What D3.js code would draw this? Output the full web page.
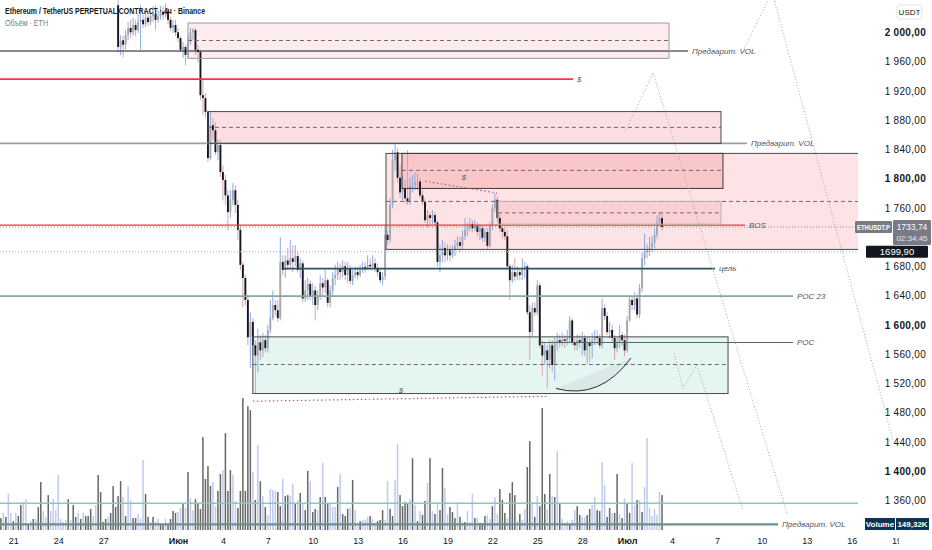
<!DOCTYPE html>
<html>
<head>
<meta charset="utf-8">
<script src="https://cdnjs.cloudflare.com/ajax/libs/d3/7.8.5/d3.min.js"></script>
<style>
    body { margin: 0; background: #ffffff; }
    #container svg { display: block; font-family: "Liberation Sans", Arial, sans-serif; }
</style>
</head>
<body>
<div id="container"></div>
<script>
// 4h candles, ETHUSDT.P, first bar opens 28 May 00:00 (UTC), open = previous close
var candleStart = "05-28 00:00";
var firstOpen = 2037;
var closes = [
    1980,1989,1983,1996,2006,2000,2010,2003,2014,2017,
    2011,2020,2014,2022,2025,2017,2022,2028,2024,2029,
    2017,2006,2010,2000,1992,1976,1980,1969,1987,2000,
    2003,1976,1973,1914,1910,1891,1828,1873,1866,1836,
    1846,1809,1798,1777,1754,1771,1784,1764,1730,1682,
    1664,1634,1583,1604,1572,1558,1576,1565,1579,1568,
    1593,1609,1627,1620,1609,1686,1675,1688,1682,1691,
    1686,1694,1675,1684,1636,1647,1656,1639,1647,1627,
    1639,1657,1651,1661,1630,1647,1664,1668,1677,1672,
    1680,1668,1677,1660,1668,1672,1668,1675,1679,1676,
    1682,1680,1684,1677,1672,1661,1666,1723,1716,1764,
    1825,1836,1801,1781,1787,1773,1768,1790,1791,1795,
    1796,1777,1768,1743,1750,1746,1750,1740,1686,1695,
    1705,1695,1702,1695,1702,1708,1713,1708,1721,1730,
    1732,1738,1732,1736,1727,1732,1719,1727,1708,1735,
    1760,1771,1746,1732,1727,1721,1680,1661,1672,1666,
    1672,1668,1677,1680,1617,1590,1623,1617,1654,1572,
    1558,1565,1552,1572,1545,1576,1579,1575,1580,1578,
    1582,1606,1576,1572,1579,1575,1582,1565,1576,1571,
    1579,1584,1582,1572,1623,1612,1590,1593,1582,1568,
    1575,1586,1579,1565,1606,1634,1627,1636,1614,1650,
    1691,1699,1702,1706,1712,1723,1740,1746,1733.74];
var highs = [
    2044,1996,1995,2003,2014,2017,2020,2017,2025,2037,
    2024,2028,2026,2030,2036,2037,2030,2036,2035,2039,
    2033,2021,2017,2017,2006,1995,1987,1983,1996,2006,
    2006,2006,1983,1976,1935,1917,1894,1891,1883,1877,
    1853,1853,1818,1805,1784,1784,1794,1791,1771,1736,
    1686,1668,1641,1617,1609,1579,1595,1586,1589,1586,
    1600,1634,1647,1634,1634,1720,1695,1695,1705,1716,
    1709,1709,1699,1691,1688,1661,1664,1661,1657,1653,
    1647,1668,1664,1675,1664,1654,1672,1682,1686,1684,
    1688,1686,1686,1682,1675,1680,1679,1682,1686,1686,
    1695,1691,1695,1691,1684,1677,1672,1732,1729,1773,
    1839,1848,1842,1818,1805,1798,1839,1801,1805,1809,
    1807,1801,1784,1773,1757,1754,1757,1754,1743,1709,
    1716,1713,1710,1708,1709,1716,1721,1720,1729,1746,
    1740,1746,1743,1743,1740,1738,1736,1732,1732,1740,
    1765,1780,1776,1751,1738,1732,1729,1683,1682,1691,
    1680,1677,1691,1686,1683,1627,1630,1631,1661,1658,
    1579,1575,1572,1579,1579,1582,1589,1586,1589,1586,
    1593,1612,1609,1583,1587,1586,1590,1586,1584,1584,
    1589,1593,1593,1587,1636,1628,1617,1604,1600,1586,
    1582,1600,1590,1587,1612,1640,1639,1645,1642,1656,
    1699,1725,1710,1720,1721,1732,1750,1754,1753];
var lows = [
    1973,1969,1966,1976,1989,1992,1996,1995,1999,1976,
    2006,2007,2009,2010,2014,2003,2013,2017,2017,2020,
    2011,2002,1999,1995,1987,1973,1965,1955,1965,1983,
    1989,1969,1959,1907,1887,1883,1823,1825,1853,1832,
    1825,1802,1770,1764,1729,1746,1764,1753,1716,1675,
    1624,1627,1572,1541,1558,1506,1535,1552,1556,1562,
    1562,1588,1606,1612,1604,1606,1668,1664,1675,1677,
    1672,1680,1671,1664,1631,1631,1634,1634,1627,1606,
    1620,1634,1640,1643,1624,1624,1640,1654,1661,1661,
    1665,1661,1658,1655,1654,1664,1662,1665,1671,1671,
    1675,1675,1677,1672,1666,1657,1654,1661,1709,1712,
    1759,1811,1794,1773,1770,1766,1764,1764,1781,1784,
    1784,1773,1764,1739,1733,1736,1738,1735,1680,1672,
    1686,1686,1688,1687,1691,1694,1702,1699,1703,1716,
    1721,1727,1727,1728,1721,1716,1713,1713,1702,1705,
    1729,1754,1740,1727,1718,1716,1677,1634,1657,1660,
    1661,1661,1661,1664,1613,1552,1584,1612,1613,1568,
    1531,1545,1513,1541,1535,1524,1565,1569,1571,1568,
    1572,1576,1572,1565,1565,1568,1558,1557,1547,1549,
    1554,1572,1573,1568,1568,1606,1586,1582,1576,1552,
    1562,1568,1571,1557,1562,1604,1620,1620,1609,1609,
    1645,1681,1691,1694,1699,1705,1718,1735,1729];

// volume per 4h bar in thousands ETH, negative = bearish bar
var volStart = "05-20 04:00";
var volumes = [
    -51,73,-56,154,73,-38,73,-60,-107,120,
    132,-26,38,-47,47,-98,-205,81,56,-149,
    81,132,85,235,47,34,43,-132,43,-107,
    -56,73,-47,73,-60,-60,-90,60,107,-235,
    -162,-34,-47,56,-73,-188,-98,-145,-209,141,
    -60,188,128,-51,-51,68,47,299,-154,-56,
    34,-56,34,47,-26,-26,47,-26,-47,-81,
    -73,77,94,-115,94,-248,137,85,-132,-111,
    -90,-397,-218,-273,-188,205,102,-167,-239,256,
    -414,-167,-256,235,124,-94,-167,-564,-167,-529,
    -512,248,-128,363,-209,145,-98,64,175,171,
    167,-162,-102,218,-145,-149,145,196,-111,128,
    -158,115,-85,-252,209,-77,-90,85,-141,286,
    -141,-115,115,98,98,-184,239,-68,
    -60,-90,94,-214,85,17,-38,43,43,56,
    -60,47,30,-38,-43,-85,43,209,-90,-60,
    214,367,-149,-102,-120,-115,132,-307,107,-38,
    81,-64,-124,201,-307,81,-68,120,-85,-265,
    179,68,-98,-77,-51,120,-56,34,-34,81,
    34,154,-51,51,-30,-30,-60,64,47,-102,
    141,68,-175,-128,-73,51,-158,-205,-149,38,
    -68,43,90,-269,-380,120,-56,145,-102,-521,
    -154,90,-239,145,-141,337,-115,47,30,38,
    -26,43,85,-102,-64,56,56,-64,-90,107,
    141,-85,-81,290,192,-56,-94,73,-73,-239,
    68,-51,137,-111,-73,286,107,-128,128,-77,
    184,393,94,60,90,64,162,-149.32];

// 1720 is hidden behind the last-price label in the picture
var priceTicks = [2000,1960,1920,1880,1840,1800,1760,1680,1640,1600,1560,1520,1480,1440,1400,1360];
var boldTicks = [2000,1800,1600,1400];
var timeTicks = ["05-21 00:00","05-24 00:00","05-27 00:00","06-01 00:00","06-04 00:00","06-07 00:00",
    "06-10 00:00","06-13 00:00","06-16 00:00","06-19 00:00","06-22 00:00","06-25 00:00","06-28 00:00",
    "07-01 00:00","07-04 00:00","07-07 00:00","07-10 00:00","07-13 00:00","07-16 00:00","07-19 00:00"];
var timeLabels = ["21","24","27","Июн","4","7","10","13","16","19","22","25","28","Июл","4","7","10","13","16","19"];

// horizontal levels (null start = from left edge, null end = to right edge)
var levelPrices = [1974.4, 1936.1, 1848.1, 1736.3, 1676.8, 1639.2, 1575.8, 1355.9, 1327.2];
var levelFrom = [null, null, null, null, "06-08 00:00", null, "06-25 04:30", null, null];
var levelTo = ["07-05 01:40", "06-27 09:20", "07-09 00:10", "07-08 21:00", "07-06 20:50", "07-12 02:00", "07-12 02:00", null, "07-11 02:00"];
var levelLabels = ["Предварит. VOL", "$", "Предварит. VOL", "BOS", "цель", "POC 23", "POC", "", "Предварит. VOL"];

// rectangles (zones)
var zoneTop = [2012.7, 1891.6, 1834.4, 1834.4, 1768.7, 1583.5];
var zoneBottom = [1964.4, 1848.1, 1703.1, 1786.5, 1737.7, 1506.0];
var zoneMid = [1988.8, 1870.0, 1768.7, 1811.2, 1753.1, 1545.7];
var zoneFrom = ["06-01 16:00", "06-03 00:00", "06-14 21:30", "06-15 23:00", "06-22 09:00", "06-06 00:00"];
var zoneTo = ["07-03 19:10", "07-07 06:30", null, "07-07 09:40", "07-07 06:30", "07-07 17:50"];

// liquidity sweeps ($) and the rounded bottom
var sweepA = [["06-17 12:00", 1796.5], ["06-22 07:30", 1780.1]];
var sweepB = [["06-06 00:00", 1495.5], ["06-25 17:20", 1502.3]];
var sweepLabels = [["06-20 02:30", 1797.5], ["06-15 21:30", 1506.5]];
var arcPts = [["06-26 06:00", 1512.9], ["06-29 04:40", 1496.8], ["07-01 06:20", 1554.7]];

// projected paths (dotted)
var projA = [["07-08 17:50", 1974.4], ["07-10 16:20", 2055.1], ["07-18 18:20", 1442.1]];
var projB = [["06-30 20:40", 1863.6], ["07-02 17:40", 1944.7], ["07-11 16:20", 1342.2]];
var projC = [["07-04 03:10", 1561.2], ["07-04 17:40", 1513.3], ["07-05 16:00", 1544.7], ["07-08 17:50", 1346.3]];

var markerPrice = 1699.90;
var symbolLabel = "ETHUSDT.P";
var countdown = "02:34:45";

function init() {
    var W = 932, H = 550;
    var plotRight = 858, plotBottom = 530;
    var parse = d3.utcParse("%Y-%m-%d %H:%M");
    var t = function (s) { return parse("2023-" + s); };

    var x = d3.scaleUtc().domain([t("06-01 00:00"), t("07-01 00:00")]).range([178, 627.1]);
    var y = d3.scaleLinear().domain([1360, 2000]).range([500.3, 32.3]);
    var yv = d3.scaleLinear().domain([0, 564]).range([plotBottom, 398]);

    var ru = d3.formatLocale({decimal: ",", thousands: "\u00a0", grouping: [3], currency: ["", ""]});
    var fmtPrice = ru.format(",.2f");
    var fmtLabel = ru.format(".2f");

    var svg = d3.select("#container").append("svg")
        .attr("width", W).attr("height", H);
    svg.append("rect").attr("width", W).attr("height", H).attr("fill", "#ffffff");

    var defs = svg.append("defs");
    defs.append("clipPath").attr("id", "plotClip")
        .append("rect").attr("width", plotRight).attr("height", plotBottom);
    defs.append("clipPath").attr("id", "timeClip")
        .append("rect").attr("x", -10).attr("y", 0).attr("width", 909).attr("height", 20);

    var plot = svg.append("g").attr("clip-path", "url(#plotClip)");

    var xs = function (s) { return s ? x(t(s)) : -2; };
    var xe = function (s) { return s ? x(t(s)) : plotRight + 2; };

    var zoneFill = ["#fdecee", "#fcdfe2", "#fde3e5", "#f9c6ca", "#fad0d4", "#e5f5f1"];
    var zoneStroke = ["#9a9a9a", "#4a4a4a", "#4a4a4a", "#3a3a3a", "#c4aeb0", "#4a4a4a"];
    var zoneOrder = [2, 0, 1, 3, 4, 5];

    zoneOrder.forEach(function (k) {
        var x0 = xs(zoneFrom[k]), x1 = xe(zoneTo[k]);
        plot.append("rect")
            .attr("x", x0).attr("y", y(zoneTop[k]))
            .attr("width", x1 - x0).attr("height", y(zoneBottom[k]) - y(zoneTop[k]))
            .attr("fill", zoneFill[k]);
    });

    // volume
    var vols = volumes.map(function (v, i) {
        return {date: d3.utcHour.offset(t(volStart), 4 * i), v: Math.abs(v), up: v > 0};
    });
    plot.append("g").selectAll("rect")
        .data(vols)
        .enter()
        .append("rect")
        .attr("x", function (d) { return x(d.date) - 0.75; })
        .attr("width", 1.5)
        .attr("y", function (d) { return yv(d.v); })
        .attr("height", function (d) { return plotBottom - yv(d.v); })
        .attr("fill", function (d) { return d.up ? "#bfcaec" : "#666666"; });

    // candles
    var candles = closes.map(function (c, i) {
        return {
            date: d3.utcHour.offset(t(candleStart), 4 * i),
            o: i === 0 ? firstOpen : closes[i - 1],
            h: highs[i], l: lows[i], c: c
        };
    });
    var bw = 1.9;
    var cg = plot.append("g");
    cg.selectAll("line")
        .data(candles)
        .enter()
        .append("line")
        .attr("x1", function (d) { return x(d.date); })
        .attr("x2", function (d) { return x(d.date); })
        .attr("y1", function (d) { return y(d.h); })
        .attr("y2", function (d) { return y(d.l); })
        .attr("stroke", function (d) { return d.c >= d.o ? "#7ea4e6" : "#d49aa0"; })
        .attr("stroke-width", 0.9);
    cg.selectAll("rect")
        .data(candles)
        .enter()
        .append("rect")
        .attr("x", function (d) { return x(d.date) - bw / 2; })
        .attr("width", bw)
        .attr("y", function (d) { return y(Math.max(d.o, d.c)); })
        .attr("height", function (d) { return Math.max(0.8, Math.abs(y(d.o) - y(d.c))); })
        .attr("fill", function (d) { return d.c >= d.o ? "#a6a8b0" : "#131722"; });

    // dotted price lines
    [[closes[closes.length - 1], "#8c8f98"], [markerPrice, "#a9acb4"]].forEach(function (p) {
        plot.append("line")
            .attr("x1", 0).attr("x2", plotRight)
            .attr("y1", y(p[0])).attr("y2", y(p[0]))
            .attr("stroke", p[1]).attr("stroke-width", 1).attr("stroke-dasharray", "1,2");
    });

    // zone mid dashes
    zoneOrder.forEach(function (k) {
        var x0 = xs(zoneFrom[k]), x1 = xe(zoneTo[k]);
        plot.append("line")
            .attr("x1", x0).attr("x2", x1)
            .attr("y1", y(zoneMid[k])).attr("y2", y(zoneMid[k]))
            .attr("stroke", "#6b6b6b").attr("stroke-width", 1).attr("stroke-dasharray", "4,3");
    });

    // horizontal levels
    var levelColor = ["#131722", "#f23645", "#8ea79f", "#f23645", "#2c5460", "#8aa69e", "#4e6e6c", "#80cbc0", "#6e8f8c"];
    var levelWidth = [1, 1.8, 1.6, 1.3, 1.6, 1.6, 1.1, 1.6, 2.2];
    levelPrices.forEach(function (p, k) {
        var x0 = xs(levelFrom[k]), x1 = xe(levelTo[k]);
        plot.append("line")
            .attr("x1", x0).attr("x2", x1)
            .attr("y1", y(p)).attr("y2", y(p))
            .attr("stroke", levelColor[k]).attr("stroke-width", levelWidth[k]);
        if (levelLabels[k]) {
            plot.append("text")
                .attr("x", x1 + 4).attr("y", y(p)).attr("dy", "0.35em")
                .attr("font-size", 8).attr("font-style", "italic")
                .attr("fill", "#50535e")
                .text(levelLabels[k]);
        }
    });

    // zone outlines on top of levels
    zoneOrder.forEach(function (k) {
        var x0 = xs(zoneFrom[k]), x1 = xe(zoneTo[k]);
        plot.append("rect")
            .attr("x", x0).attr("y", y(zoneTop[k]))
            .attr("width", x1 - x0).attr("height", y(zoneBottom[k]) - y(zoneTop[k]))
            .attr("fill", "none").attr("stroke", zoneStroke[k]).attr("stroke-width", 1);
    });

    // sweeps
    var line = d3.line()
        .x(function (d) { return x(t(d[0])); })
        .y(function (d) { return y(d[1]); });
    [sweepA, sweepB].forEach(function (pts) {
        plot.append("path").attr("d", line(pts))
            .attr("fill", "none").attr("stroke", "#b35f6a")
            .attr("stroke-width", 1.2).attr("stroke-dasharray", "1.5,2.5");
    });
    sweepLabels.forEach(function (d) {
        plot.append("text")
            .attr("x", x(t(d[0]))).attr("y", y(d[1]))
            .attr("text-anchor", "middle")
            .attr("font-size", 8).attr("font-style", "italic").attr("fill", "#50535e")
            .text("$");
    });

    // rounded bottom
    var a = arcPts.map(function (d) { return [x(t(d[0])), y(d[1])]; });
    var ap = d3.path();
    ap.moveTo(a[0][0], a[0][1]);
    ap.quadraticCurveTo(a[1][0], a[1][1], a[2][0], a[2][1]);
    plot.append("path").attr("d", ap.toString() + "Z")
        .attr("fill", "rgba(110,120,130,0.09)");
    plot.append("path").attr("d", ap.toString())
        .attr("fill", "none").attr("stroke", "#2a2e39").attr("stroke-width", 1);

    // projections
    [projB, projC].forEach(function (pts) {
        plot.append("path").attr("d", line(pts))
            .attr("fill", "none").attr("stroke", "#a3a6ae")
            .attr("stroke-width", 1).attr("stroke-dasharray", "1,2");
    });
    svg.append("path").attr("d", line(projA))
        .attr("fill", "none").attr("stroke", "#a3a6ae")
        .attr("stroke-width", 1).attr("stroke-dasharray", "1,2");

    // legend
    svg.append("text")
        .attr("x", 5).attr("y", 14)
        .attr("font-size", 9).attr("font-weight", "bold").attr("fill", "#131722")
        .attr("textLength", 200).attr("lengthAdjust", "spacingAndGlyphs")
        .text("Ethereum / TetherUS PERPETUAL CONTRACT · 4ч · Binance");
    svg.append("text")
        .attr("x", 5).attr("y", 26)
        .attr("font-size", 9).attr("fill", "#787b86")
        .attr("textLength", 43).attr("lengthAdjust", "spacingAndGlyphs")
        .text("Объём · ETH");

    // price axis
    var yAxis = svg.append("g")
        .attr("transform", "translate(" + plotRight + ",0)")
        .call(d3.axisRight(y).tickValues(priceTicks).tickFormat(fmtPrice).tickSize(0).tickPadding(0));
    yAxis.attr("font-family", null);
    yAxis.select(".domain").remove();
    yAxis.selectAll("text")
        .attr("x", 926 - plotRight)
        .attr("text-anchor", "end")
        .attr("font-size", 10)
        .attr("letter-spacing", 0.3)
        .attr("fill", "#131722")
        .attr("font-weight", function (d) { return boldTicks.indexOf(d) >= 0 ? "bold" : null; });

    svg.append("rect").attr("x", 897).attr("y", 5).attr("width", 25).attr("height", 14)
        .attr("rx", 2).attr("fill", "none").attr("stroke", "#e0e3eb");
    svg.append("text").attr("x", 909.5).attr("y", 15).attr("text-anchor", "middle")
        .attr("font-size", 8).attr("fill", "#131722").text("USDT");

    // time axis
    var tickDates = timeTicks.map(t);
    var xAxis = svg.append("g")
        .attr("transform", "translate(0," + plotBottom + ")")
        .attr("clip-path", "url(#timeClip)")
        .call(d3.axisBottom(x).tickValues(tickDates)
            .tickFormat(function (d, i) { return timeLabels[i]; })
            .tickSize(0).tickPadding(8));
    xAxis.attr("font-family", null);
    xAxis.select(".domain").remove();
    xAxis.selectAll("text")
        .attr("font-size", 9)
        .attr("fill", "#131722")
        .attr("font-weight", function (d, i) { return isNaN(+timeLabels[i]) ? "bold" : null; });

    // last price / marker labels
    var last = closes[closes.length - 1];
    var py = y(last);
    svg.append("rect").attr("x", 855).attr("y", py - 6).attr("width", 37).attr("height", 12)
        .attr("rx", 1).attr("fill", "#787b86");
    svg.append("text").attr("x", 873.5).attr("y", py).attr("dy", "0.35em")
        .attr("text-anchor", "middle").attr("font-size", 7.5).attr("font-weight", "bold")
        .attr("fill", "#ffffff").attr("textLength", 33).attr("lengthAdjust", "spacingAndGlyphs")
        .text(symbolLabel);
    svg.append("rect").attr("x", 893).attr("y", py - 7).attr("width", 38).attr("height", 25)
        .attr("rx", 1).attr("fill", "#787b86");
    svg.append("text").attr("x", 912).attr("y", py).attr("dy", "0.35em")
        .attr("text-anchor", "middle").attr("font-size", 8.5).attr("fill", "#ffffff")
        .text(fmtLabel(last));
    svg.append("text").attr("x", 912).attr("y", py + 11).attr("dy", "0.35em")
        .attr("text-anchor", "middle").attr("font-size", 8).attr("fill", "#e6e7ea")
        .text(countdown);

    var my = y(markerPrice);
    svg.append("rect").attr("x", 866).attr("y", my - 6).attr("width", 62).attr("height", 12)
        .attr("rx", 1).attr("fill", "#131722");
    svg.append("text").attr("x", 897).attr("y", my).attr("dy", "0.35em")
        .attr("text-anchor", "middle").attr("font-size", 9.5).attr("fill", "#ffffff")
        .text(fmtLabel(markerPrice));

    // volume label
    var lastVol = Math.abs(volumes[volumes.length - 1]);
    svg.append("rect").attr("x", 865).attr("y", 518).attr("width", 30).attr("height", 12)
        .attr("fill", "#0c3358");
    svg.append("text").attr("x", 880).attr("y", 524).attr("dy", "0.35em")
        .attr("text-anchor", "middle").attr("font-size", 8).attr("font-weight", "bold")
        .attr("fill", "#ffffff").text("Volume");
    svg.append("rect").attr("x", 896).attr("y", 518).attr("width", 33).attr("height", 12)
        .attr("fill", "#0c3358");
    svg.append("text").attr("x", 912.5).attr("y", 524).attr("dy", "0.35em")
        .attr("text-anchor", "middle").attr("font-size", 8).attr("font-weight", "bold")
        .attr("fill", "#ffffff").text(fmtLabel(lastVol) + "K");
}

init();
</script>
</body>
</html>
